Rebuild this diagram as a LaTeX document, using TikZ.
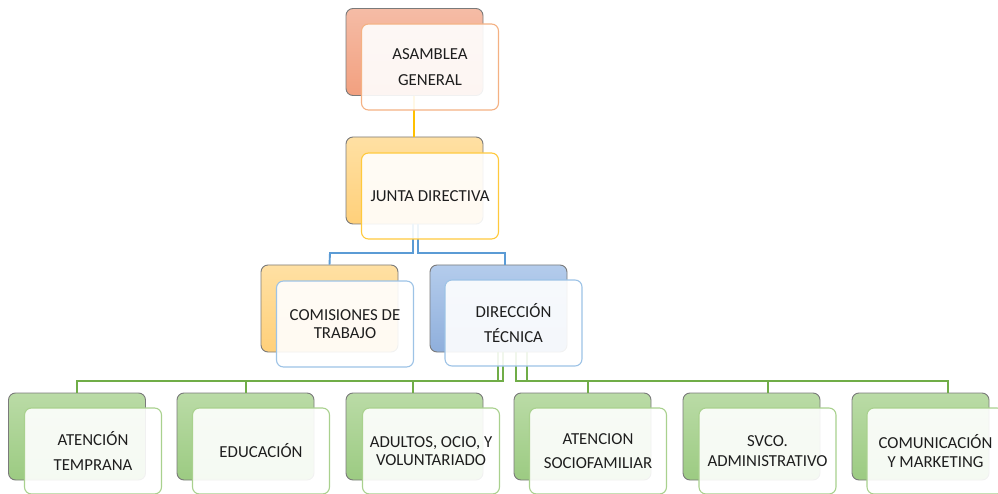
\documentclass[tikz,border=0pt]{standalone}
\usepackage{fontspec}
\setmainfont{Carlito}
\definecolor{txt}{HTML}{1E1E1E}
\definecolor{edgegray}{HTML}{7A7A7A}
\definecolor{salmonT}{HTML}{F5BCA6}
\definecolor{salmonB}{HTML}{F2A07F}
\definecolor{salmonL}{HTML}{F4B183}
\definecolor{goldT}{HTML}{FFE0A3}
\definecolor{goldB}{HTML}{FFD07A}
\definecolor{goldL}{HTML}{FFC93C}
\definecolor{blueT}{HTML}{B4CCEC}
\definecolor{blueB}{HTML}{8FAFDC}
\definecolor{blueL}{HTML}{9DC3E6}
\definecolor{greenT}{HTML}{BADBA6}
\definecolor{greenB}{HTML}{9CCB82}
\definecolor{greenL}{HTML}{A9D18E}
\definecolor{cYellow}{HTML}{FFC000}
\definecolor{cBlue}{HTML}{5B9BD5}
\definecolor{cGreen}{HTML}{70AD47}
\tikzset{
  backbox/.style={draw=edgegray, line width=0.9pt, rounded corners=7pt,
    minimum width=137pt, minimum height=87pt, inner sep=0pt},
  frontbox/.style={fill=white, fill opacity=0.9, text opacity=1, line width=1.1pt,
    rounded corners=7pt, minimum width=137pt, minimum height=86pt, inner sep=0pt,
    align=center, text=txt, font=\fontsize{16.8}{18.5}\selectfont},
  conn/.style={line width=1.9pt}
}
\begin{document}
\begin{tikzpicture}[x=1pt,y=-1pt]
\useasboundingbox (0,0) rectangle (998,494);
\clip (0,0) rectangle (998,494);
% back boxes
\node[backbox, top color=salmonT, bottom color=salmonB] (asamb) at (414.5,52) {};
\node[backbox, top color=goldT, bottom color=goldB] (juntab) at (414.5,180.5) {};
\node[backbox, top color=goldT, bottom color=goldB] (comisb) at (329.5,308.5) {};
\node[backbox, top color=blueT, bottom color=blueB] (direcb) at (498.5,308.5) {};
\node[backbox, top color=greenT, bottom color=greenB] (b1b) at (77,436.5) {};
\node[backbox, top color=greenT, bottom color=greenB] (b2b) at (245.5,436.5) {};
\node[backbox, top color=greenT, bottom color=greenB] (b3b) at (414.5,436.5) {};
\node[backbox, top color=greenT, bottom color=greenB] (b4b) at (582.5,436.5) {};
\node[backbox, top color=greenT, bottom color=greenB] (b5b) at (751.5,436.5) {};
\node[backbox, top color=greenT, bottom color=greenB] (b6b) at (920.5,436.5) {};
% connectors
\draw[conn, cYellow] (asamb.south -| 414,0) -- (juntab.north -| 414,0);
\coordinate (jl) at (413,224);
\coordinate (jr) at (418,224);
\draw[conn, cBlue] (jl) |- (330,253) -- (comisb.north);
\draw[conn, cBlue] (jr) |- (505,253) -- (direcb.north -| 505,0);
\coordinate (d1) at (498,352);
\coordinate (d2) at (503,352);
\coordinate (d3) at (516,352);
\coordinate (d4) at (527,352);
\draw[conn, cGreen] (d1) |- (77,381) -- (b1b.north);
\draw[conn, cGreen] (d1) |- (246,381) -- (b2b.north -| 246,0);
\draw[conn, cGreen] (d2) |- (413,381) -- (b3b.north -| 413,0);
\draw[conn, cGreen] (d3) |- (588,381) -- (b4b.north -| 588,0);
\draw[conn, cGreen] (d4) |- (768,381) -- (b5b.north -| 768,0);
\draw[conn, cGreen] (d4) |- (948,381) -- (b6b.north -| 948,0);
% front boxes
\node[frontbox, draw=salmonL] (asam) at (430,67) {ASAMBLEA\\[7pt]GENERAL};
\node[frontbox, draw=goldL] (junta) at (430,196) {JUNTA DIRECTIVA};
\node[frontbox, draw=blueL] (comis) at (345,324) {COMISIONES DE\\TRABAJO};
\node[frontbox, draw=blueL] (direc) at (513.5,323) {DIRECCIÓN\\[6pt]TÉCNICA};
\node[frontbox, draw=greenL] (b1) at (93,451) {ATENCIÓN\\[6pt]TEMPRANA};
\node[frontbox, draw=greenL] (b2) at (261,451) {EDUCACIÓN};
\node[frontbox, draw=greenL] (b3) at (431,451) {ADULTOS, OCIO, Y\\VOLUNTARIADO};
\node[frontbox, draw=greenL] (b4) at (598,451) {ATENCION\\[6pt]SOCIOFAMILIAR};
\node[frontbox, draw=greenL] (b5) at (767.5,451) {SVCO.\\[1pt]ADMINISTRATIVO};
\node[frontbox, draw=greenL] (b6) at (935.5,451) {COMUNICACIÓN\\Y MARKETING};
\end{tikzpicture}
\end{document}
